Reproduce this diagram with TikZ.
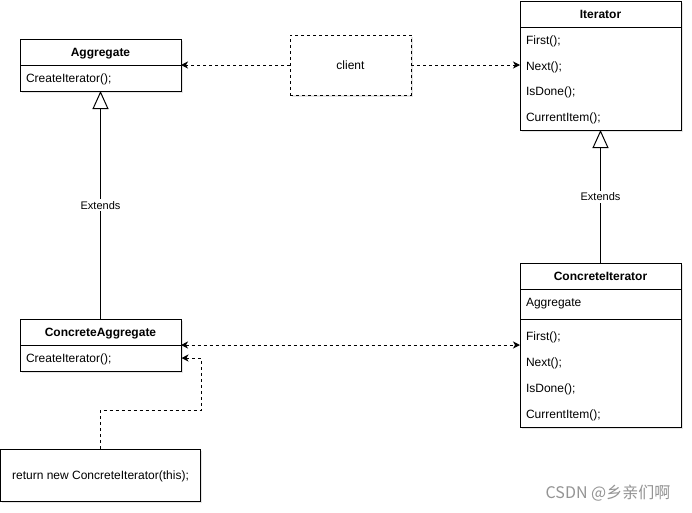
\documentclass[tikz,border=0pt]{standalone}
\usepackage{fontspec}
\setmainfont{Liberation Sans}
\newfontfamily\cjk{Noto Sans CJK SC}
\usetikzlibrary{arrows.meta,shadows}
\begin{document}
\begin{tikzpicture}[x=1pt,y=-1pt,
  font=\fontsize{12}{14}\selectfont,
  every node/.style={inner sep=0pt, outer sep=0pt},
  txt/.style={text height=10pt, text depth=1pt},
  umlbox/.style={draw, line width=1pt, fill=white, rectangle,
    drop shadow={opacity=0.2, shadow xshift=1.5pt, shadow yshift=-1.5pt}},
  dashbox/.style={umlbox, dash pattern=on 3pt off 3pt, txt},
  title/.style={txt, font=\fontsize{12}{14}\selectfont\bfseries},
  member/.style={txt, anchor=west},
  divider/.style={line width=1pt},
  dep/.style={line width=1pt, dash pattern=on 3pt off 3pt, -{Stealth[length=7pt,width=7pt,inset=2pt]}},
  inh/.style={line width=1pt, -{Triangle[open,length=18pt,width=16pt,fill=white]}},
  lbl/.style={fill=white, inner sep=1pt, text height=9pt, text depth=1pt, font=\fontsize{11}{13}\selectfont}]
\useasboundingbox (0,0) rectangle (692,512);
\fill[white] (0,0) rectangle (692,512);

% Aggregate
\node[umlbox, minimum width=161pt, minimum height=52pt] (agg) at (100.5,65) {};
\draw[divider] (20,65) -- (181,65);
\node[title] (aggt) at (100.5,52) {Aggregate};
\node[member] (aggm) at (26,78) {CreateIterator();};

% client
\node[dashbox, minimum width=121pt, minimum height=60pt] (client) at (350.5,65) {client};

% Iterator
\node[umlbox, minimum width=161pt, minimum height=129pt] (iter) at (600.5,65.5) {};
\draw[divider] (520,27) -- (681,27);
\node[title] (itert) at (600.5,14) {Iterator};
\node[member] (iter1) at (526,40) {First();};
\node[member] (iter2) at (526,65.5) {Next();};
\node[member] (iter3) at (526,91) {IsDone();};
\node[member] (iter4) at (526,117) {CurrentItem();};

% ConcreteIterator
\node[umlbox, minimum width=161pt, minimum height=164pt] (ci) at (600.5,345) {};
\draw[divider] (520,289) -- (681,289);
\draw[divider] (520,319) -- (681,319);
\node[title] (cit) at (600.5,276) {ConcreteIterator};
\node[member] (cia) at (526,302) {Aggregate};
\node[member] (ci1) at (526,336) {First();};
\node[member] (ci2) at (526,362) {Next();};
\node[member] (ci3) at (526,388) {IsDone();};
\node[member] (ci4) at (526,414) {CurrentItem();};

% ConcreteAggregate
\node[umlbox, minimum width=161pt, minimum height=52pt] (ca) at (100.5,345) {};
\draw[divider] (20,345) -- (181,345);
\node[title] (cat) at (100.5,332) {ConcreteAggregate};
\node[member] (cam) at (26,358) {CreateIterator();};

% return box
\node[umlbox, txt, minimum width=200pt, minimum height=52pt] (ret) at (100.5,475) {return new ConcreteIterator(this);};

% connectors
\draw[dep] (client.west) -- (agg.east);
\draw[dep] (client.east) -- (client.east -| iter.west);
\draw[inh] (ca.north) -- node[lbl, pos=0.5] (ext1) {Extends} (agg.south);
\draw[inh] (ci.north) -- node[lbl, pos=0.5] (ext2) {Extends} (iter.south);
\draw[dep, {Stealth[length=7pt,width=7pt,inset=2pt]}-{Stealth[length=7pt,width=7pt,inset=2pt]}] (ca.east) -- (ci.west);
\coordinate (retBend) at (201,410);
\coordinate (caEnd) at (181.5,358);
\draw[dep] (ret.north) |- (retBend) |- (caEnd);

% watermark
\node[text=black!42, font=\cjk\fontsize{16}{18}\selectfont] (wm) at (608,493) {CSDN @乡亲们啊};
\end{tikzpicture}
\end{document}
